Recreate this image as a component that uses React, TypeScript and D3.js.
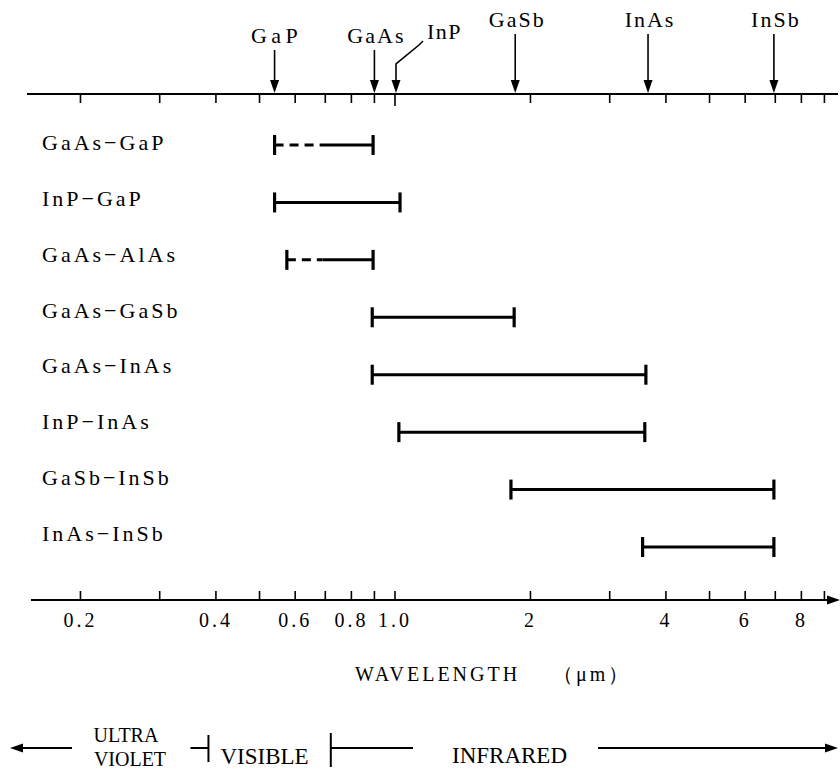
import React from "react";
import * as d3 from "d3";

const WIDTH = 840;
const HEIGHT = 772;
const FONT = "Liberation Serif, Times New Roman, DejaVu Serif, serif";

// binary compounds marked on the top axis, band gap wavelength in µm
const compounds = ["GaP", "GaAs", "InP", "GaSb", "InAs", "InSb"];
const compoundWavelengths = [0.54, 0.9, 1.0, 1.85, 3.65, 6.95];

// alloy systems and the wavelength range they cover (µm)
const alloys = [
  "GaAs−GaP",
  "InP−GaP",
  "GaAs−AlAs",
  "GaAs−GaSb",
  "GaAs−InAs",
  "InP−InAs",
  "GaSb−InSb",
  "InAs−InSb",
];
const alloyMin = [0.54, 0.54, 0.575, 0.89, 0.89, 1.02, 1.81, 3.55];
const alloyMax = [0.894, 1.026, 0.894, 1.84, 3.61, 3.59, 6.95, 6.95];
// below this wavelength the range is drawn dashed (null = solid all along)
const alloyDashTo = [0.68, null, 0.69, null, null, null, null, null];

// axis ticks and labels
const axisTicks = [0.2, 0.3, 0.4, 0.5, 0.6, 0.7, 0.8, 0.9, 1, 2, 3, 4, 5, 6, 7, 8, 9];
const axisLabels = [0.2, 0.4, 0.6, 0.8, 1.0, 2, 4, 6, 8];

// visible band edges (µm)
const visibleRange = [0.385, 0.72];

const TOP_Y = 94;
const BOTTOM_Y = 600;
const BAND_Y = 748;

const fmt = (v: number) => (v < 1 ? d3.format(".1f")(v) : v === 1 ? "1.0" : String(v));

const Arrowhead = ({ x, y, dir }: { x: number; y: number; dir: "down" | "left" | "right" }) => {
  let pts: number[][];
  if (dir === "down") pts = [[x, y], [x - 4.5, y - 13], [x + 4.5, y - 13]];
  else if (dir === "left") pts = [[x, y], [x + 13, y - 4.5], [x + 13, y + 4.5]];
  else pts = [[x, y], [x - 13, y - 4.5], [x - 13, y + 4.5]];
  return <polygon points={pts.map((p) => p.join(",")).join(" ")} fill="#000" />;
};

export default function App() {
  const x = d3.scaleLog().domain([0.1, 10]).range([-55, 845]);
  const yBar = d3.scalePoint<string>().domain(alloys).range([145, 547]);
  const yLabel = d3.scalePoint<string>().domain(alloys).range([150, 541]);

  // top axis: compound markers
  const markers = compounds.map((name, i) => {
    const cx = x(compoundWavelengths[i]);
    const low = i < 3; // first three labels sit lower
    const labelY = low ? 43 : 27;
    if (name === "InP") {
      return (
        <g key={name}>
          <text x={cx + 32} y={39} fontSize={22} letterSpacing={1.5}>
            {name}
          </text>
          <path d={`M${cx + 28},${41} L${cx + 24},${45} L${cx + 1},${64} L${cx + 1},${TOP_Y - 10}`} fill="none" stroke="#000" strokeWidth={1.6} />
          <Arrowhead x={cx + 1} y={TOP_Y - 1} dir="down" />
        </g>
      );
    }
    return (
      <g key={name}>
        <text x={cx + 2} y={labelY} textAnchor="middle" fontSize={22} letterSpacing={name === "GaP" ? 4.5 : 2}>
          {name}
        </text>
        <line x1={cx} x2={cx} y1={labelY + 7} y2={TOP_Y - 10} stroke="#000" strokeWidth={1.6} />
        <Arrowhead x={cx} y={TOP_Y - 1} dir="down" />
      </g>
    );
  });

  // range bars
  const bars = alloys.map((name, i) => {
    const y = yBar(name) as number;
    const x0 = x(alloyMin[i]);
    const x1 = x(alloyMax[i]);
    const dashTo = alloyDashTo[i];
    const xs = dashTo == null ? x0 : x(dashTo);
    return (
      <g key={name}>
        <text x={42} y={yLabel(name)} fontSize={22} letterSpacing={3}>
          {name}
        </text>
        {dashTo != null && (
          <line x1={x0} x2={xs} y1={y} y2={y} stroke="#000" strokeWidth={3} strokeDasharray="9,6" />
        )}
        <line x1={xs} x2={x1} y1={y} y2={y} stroke="#000" strokeWidth={3} />
        <line x1={x0} x2={x0} y1={y - 10} y2={y + 10} stroke="#000" strokeWidth={3.2} />
        <line x1={x1} x2={x1} y1={y - 10} y2={y + 10} stroke="#000" strokeWidth={3.2} />
      </g>
    );
  });

  const vis0 = x(visibleRange[0]);
  const vis1 = x(visibleRange[1]);

  return (
    <svg
      width={WIDTH}
      height={HEIGHT}
      fontFamily={FONT}
      style={{ position: "absolute", left: 0, top: 0, background: "#fff", fontFamily: FONT }}
    >
      {/* top axis */}
      <line x1={27} x2={838} y1={TOP_Y} y2={TOP_Y} stroke="#000" strokeWidth={2} />
      {axisTicks.map((t) => (
        <line key={t} x1={x(t)} x2={x(t)} y1={TOP_Y} y2={TOP_Y + (t === 1 ? 12 : 9)} stroke="#000" strokeWidth={1.6} />
      ))}
      {markers}

      {bars}

      {/* bottom axis */}
      <line x1={31} x2={830} y1={BOTTOM_Y} y2={BOTTOM_Y} stroke="#000" strokeWidth={2} />
      <Arrowhead x={840} y={BOTTOM_Y} dir="right" />
      {axisTicks.map((t) => (
        <line key={t} x1={x(t)} x2={x(t)} y1={BOTTOM_Y} y2={BOTTOM_Y - 9} stroke="#000" strokeWidth={1.6} />
      ))}
      {axisLabels.map((t) => (
        <text key={t} x={x(t)} y={627} textAnchor="middle" fontSize={20} letterSpacing={3}>
          {fmt(t)}
        </text>
      ))}
      <text x={355} y={681} fontSize={20} letterSpacing={3}>
        WAVELENGTH
      </text>
      <text x={553} y={681} fontSize={20} letterSpacing={3}>
        （μm）
      </text>

      {/* spectral regions */}
      <line x1={18} x2={72} y1={BAND_Y} y2={BAND_Y} stroke="#000" strokeWidth={2} />
      <Arrowhead x={10} y={BAND_Y} dir="left" />
      <text x={126} y={742} textAnchor="middle" fontSize={20}>
        ULTRA
      </text>
      <text x={130} y={766} textAnchor="middle" fontSize={20}>
        VIOLET
      </text>
      <line x1={vis0 - 18} x2={vis0} y1={BAND_Y} y2={BAND_Y} stroke="#000" strokeWidth={2} />
      <line x1={vis0} x2={vis0} y1={735} y2={762} stroke="#000" strokeWidth={2} />
      <text x={vis0 + 12} y={764} fontSize={23}>
        VISIBLE
      </text>
      <line x1={vis1} x2={vis1} y1={733} y2={767} stroke="#000" strokeWidth={2} />
      <line x1={vis1} x2={413} y1={BAND_Y} y2={BAND_Y} stroke="#000" strokeWidth={2} />
      <text x={452} y={763} fontSize={23}>
        INFRARED
      </text>
      <line x1={598} x2={826} y1={BAND_Y} y2={BAND_Y} stroke="#000" strokeWidth={2} />
      <Arrowhead x={838} y={BAND_Y} dir="right" />
    </svg>
  );
}
